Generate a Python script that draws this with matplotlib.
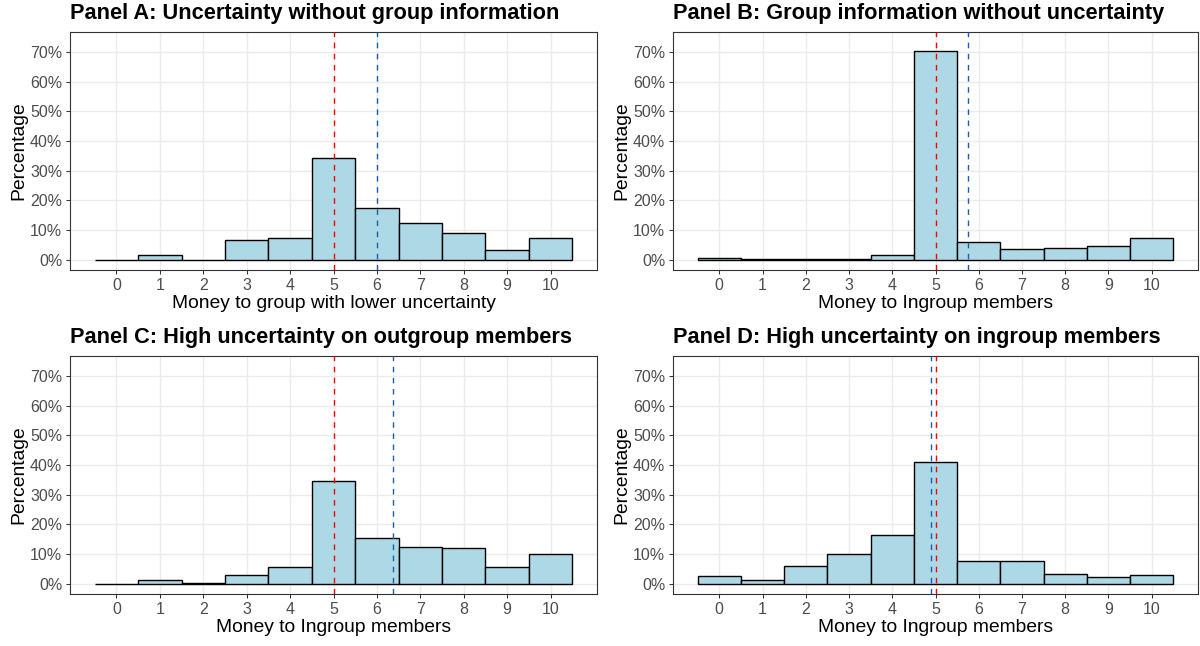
import matplotlib
matplotlib.use("Agg")
import matplotlib.pyplot as plt
from matplotlib.ticker import FuncFormatter

plt.rcParams['font.family'] = ['Liberation Sans', 'DejaVu Sans']

amounts = list(range(11))
pct_a = [0.0, 1.6, 0.0, 6.5, 7.4, 34.3, 17.4, 12.5, 9.1, 3.3, 7.4]
pct_b = [0.7, 0.2, 0.2, 0.2, 1.6, 70.4, 5.8, 3.6, 4.0, 4.5, 7.4]
pct_c = [0.0, 1.2, 0.3, 2.9, 5.5, 34.6, 15.5, 12.5, 12.1, 5.5, 10.0]
pct_d = [2.6, 1.2, 6.0, 10.0, 16.3, 40.9, 7.5, 7.5, 3.3, 2.1, 2.9]
fair_split = [5, 5, 5, 5]
means = [6.0, 5.74, 6.36, 4.89]
titles = ["Panel A: Uncertainty without group information",
          "Panel B: Group information without uncertainty",
          "Panel C: High uncertainty on outgroup members",
          "Panel D: High uncertainty on ingroup members"]
xlabels = ["Money to group with lower uncertainty",
           "Money to Ingroup members",
           "Money to Ingroup members",
           "Money to Ingroup members"]
y_ticks = [0, 10, 20, 30, 40, 50, 60, 70]

W, H = 1200, 646
fig = plt.figure(figsize=(W / 100, H / 100), dpi=100)

# pixel boxes: (left, top, right, bottom)
boxes = [(70, 32, 597, 270), (673, 32, 1198, 270),
         (70, 356, 597, 594), (673, 356, 1198, 594)]
data = [pct_a, pct_b, pct_c, pct_d]

for i, (l, t, r, b) in enumerate(boxes):
    ax = fig.add_axes([l / W, 1 - b / H, (r - l) / W, (b - t) / H])
    ax.set_axisbelow(True)
    ax.grid(True, color='#EBEBEB', linewidth=1.0)
    ax.bar(amounts, data[i], width=1.0, color='#ADD8E6', edgecolor='black',
           linewidth=1.0, zorder=2)
    ax.axvline(fair_split[i], color='red', linestyle=(0, (4, 4)), linewidth=1.0, zorder=3)
    ax.axvline(means[i], color='#1560B0', linestyle=(0, (4, 4)), linewidth=1.0, zorder=3)
    ax.set_xlim(-1.07, 11.07)
    ax.set_ylim(-3.5, 76.7)
    ax.set_xticks(amounts)
    ax.set_yticks(y_ticks)
    ax.yaxis.set_major_formatter(FuncFormatter(lambda v, p: f"{int(v)}%"))
    ax.tick_params(axis='both', labelsize=11.5, labelcolor='#4D4D4D', color='#333333',
                   length=3, width=0.75, pad=2.5)
    for s in ax.spines.values():
        s.set_color('#333333')
        s.set_linewidth(0.8)
    ax.set_title(titles[i], loc='left', fontsize=15.7, fontweight='bold', pad=9)
    ax.set_xlabel(xlabels[i], fontsize=13.9, labelpad=2)
    ax.set_ylabel("Percentage", fontsize=13.9, labelpad=2)

fig.savefig("out.png", dpi=100)
